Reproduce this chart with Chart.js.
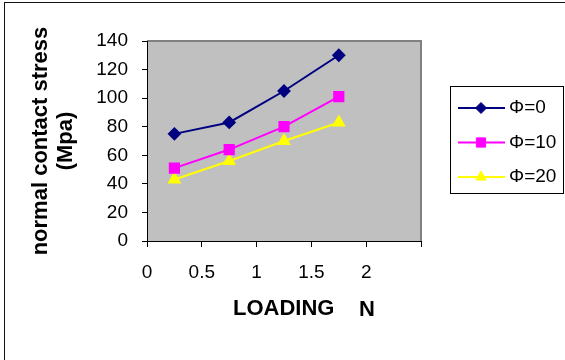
<!DOCTYPE html>
<html>
<head>
<meta charset="utf-8">
<script src="https://cdn.jsdelivr.net/npm/chart.js@4"></script>
<style>
    body { margin: 0; background: #fff; }
    #wrap { position: relative; width: 565px; height: 360px; overflow: hidden; }
    #frame { position: absolute; left: 4px; top: 2px; width: 600px; height: 400px;
             border-left: 1px solid #111; border-top: 1px solid #111; }
    #stressChart { position: absolute; left: 0; top: 0; }
</style>
</head>
<body>
<div id="wrap">
    <div id="frame"></div>
    <canvas id="stressChart" width="565" height="360"></canvas>
</div>
<script>
    // 데이터
    const loading = [0.25, 0.75, 1.25, 1.75];
    const phi0 = [75, 83, 105, 130];
    const phi10 = [51, 64, 80, 101];
    const phi20 = [43, 56, 70, 83];
    const seriesNames = ['\u03A6=0', '\u03A6=10', '\u03A6=20'];
    const yTitle = ['normal contact stress', '(Mpa)'];
    const xTitle = ['LOADING', 'N'];

    const FONT = '"Liberation Sans", Arial, sans-serif';

    function toPoints(values) {
        return values.map((v, i) => ({ x: loading[i], y: v }));
    }

    // 회색 플롯 영역 + 테두리
    const plotBg = {
        id: 'plotBg',
        beforeDraw(chart) {
            const { ctx, chartArea: a } = chart;
            ctx.save();
            ctx.fillStyle = '#C0C0C0';
            ctx.fillRect(a.left, a.top, a.right - a.left, a.bottom - a.top);
            ctx.strokeStyle = '#808080';
            ctx.lineWidth = 2;
            ctx.beginPath();
            ctx.moveTo(a.left, a.top);
            ctx.lineTo(a.right, a.top);
            ctx.lineTo(a.right, a.bottom);
            ctx.stroke();
            ctx.restore();
        }
    };

    // x축 제목 (LOADING   N)
    const xTitlePlugin = {
        id: 'xTitlePlugin',
        afterDraw(chart) {
            const { ctx, chartArea: a } = chart;
            ctx.save();
            ctx.fillStyle = '#000';
            ctx.font = 'bold 22px ' + FONT;
            ctx.textBaseline = 'middle';
            ctx.textAlign = 'left';
            ctx.fillText(xTitle[0], a.left + 86, a.bottom + 68);
            ctx.fillText(xTitle[1], a.left + 212, a.bottom + 69);
            ctx.restore();
        }
    };

    // 범례 (선 + 마커, 테두리 박스)
    const boxLegend = {
        id: 'boxLegend',
        afterDraw(chart) {
            const { ctx } = chart;
            ctx.save();
            ctx.strokeStyle = '#000';
            ctx.lineWidth = 1;
            ctx.strokeRect(450.5, 86.5, 113, 107);
            chart.data.datasets.forEach((ds, i) => {
                const y = 108 + i * 34.5;
                ctx.strokeStyle = ds.borderColor;
                ctx.lineWidth = 2;
                ctx.beginPath();
                ctx.moveTo(458, y);
                ctx.lineTo(505, y);
                ctx.stroke();
                ctx.fillStyle = ds.pointBackgroundColor;
                ctx.strokeStyle = ds.pointBorderColor;
                ctx.lineWidth = 1;
                Chart.helpers.drawPoint(ctx, {
                    pointStyle: ds.pointStyle,
                    radius: ds.pointRadius,
                    rotation: 0,
                    borderWidth: 1
                }, 481, y);
                ctx.fillStyle = '#000';
                ctx.font = '19px ' + FONT;
                ctx.textBaseline = 'middle';
                ctx.textAlign = 'left';
                ctx.fillText(ds.label, 509, y);
            });
            ctx.restore();
        }
    };

    const ctx = document.getElementById('stressChart').getContext('2d');
    const stressChart = new Chart(ctx, {
        type: 'line',
        data: {
            datasets: [{
                label: seriesNames[0],
                data: toPoints(phi0),
                borderColor: '#000080',
                backgroundColor: '#000080',
                pointBackgroundColor: '#000080',
                pointBorderColor: '#000080',
                pointStyle: 'rectRot',
                pointRadius: 5.5,
                borderWidth: 2
            }, {
                label: seriesNames[1],
                data: toPoints(phi10),
                borderColor: '#FF00FF',
                backgroundColor: '#FF00FF',
                pointBackgroundColor: '#FF00FF',
                pointBorderColor: '#FF00FF',
                pointStyle: 'rect',
                pointRadius: 6.5,
                borderWidth: 2
            }, {
                label: seriesNames[2],
                data: toPoints(phi20),
                borderColor: '#FFFF00',
                backgroundColor: '#FFFF00',
                pointBackgroundColor: '#FFFF00',
                pointBorderColor: '#FFFF00',
                pointStyle: 'triangle',
                pointRadius: 6,
                borderWidth: 2
            }]
        },
        options: {
            responsive: false,
            animation: false,
            layout: {
                padding: { top: 41, right: 144, bottom: 0, left: 0 }
            },
            plugins: {
                legend: { display: false },
                tooltip: { enabled: false }
            },
            scales: {
                x: {
                    type: 'linear',
                    min: 0,
                    max: 2.5,
                    afterFit: (scale) => { scale.height = 119; },
                    ticks: {
                        stepSize: 0.5,
                        color: '#000',
                        padding: 14,
                        maxRotation: 0,
                        font: { family: FONT, size: 19 },
                        callback: (v) => (v > 2.25 ? '' : v)
                    },
                    grid: {
                        drawOnChartArea: false,
                        drawTicks: true,
                        tickLength: 6,
                        color: '#000'
                    },
                    border: { display: true, color: '#000', width: 1 }
                },
                y: {
                    min: 0,
                    max: 140,
                    afterFit: (scale) => { scale.width = 147; },
                    ticks: {
                        stepSize: 20,
                        color: '#000',
                        padding: 14,
                        font: { family: FONT, size: 19 }
                    },
                    grid: {
                        drawOnChartArea: false,
                        drawTicks: true,
                        tickLength: 5,
                        color: '#000'
                    },
                    border: { display: true, color: '#000', width: 1 },
                    title: {
                        display: true,
                        text: yTitle,
                        color: '#000',
                        padding: { top: 28, bottom: 0 },
                        font: { family: FONT, size: 22, weight: 'bold', lineHeight: 1.15 }
                    }
                }
            }
        },
        plugins: [plotBg, xTitlePlugin, boxLegend]
    });
</script>
</body>
</html>
